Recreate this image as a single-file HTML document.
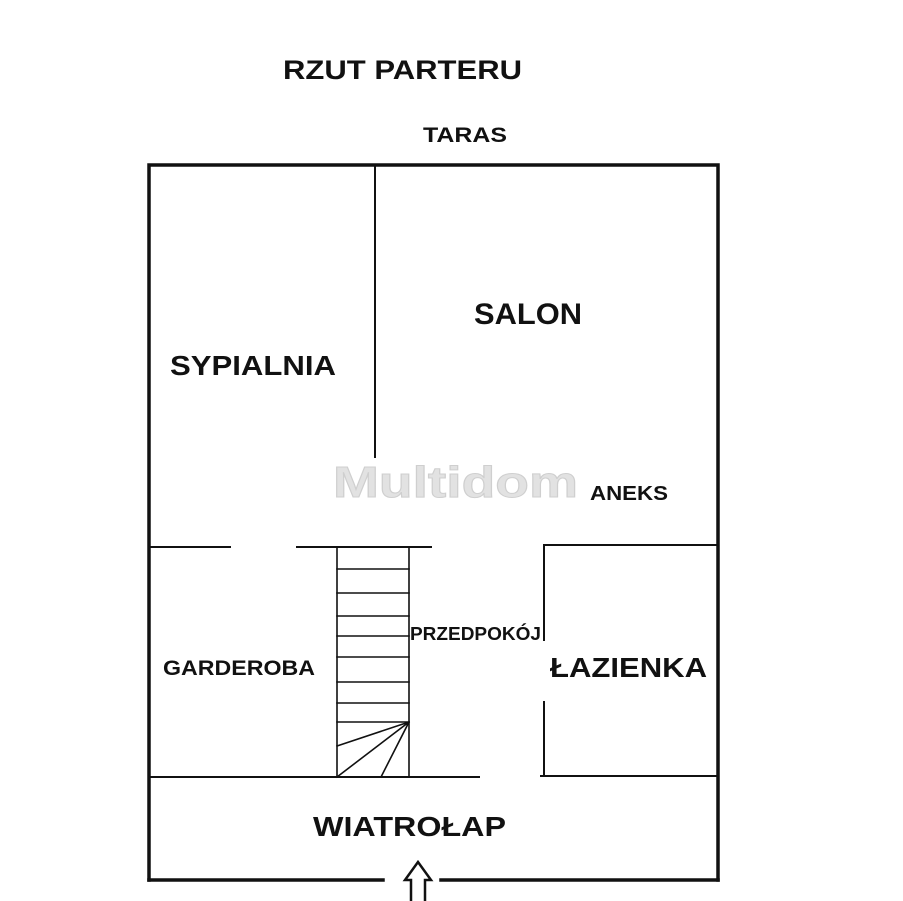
<!DOCTYPE html>
<html><head><meta charset="utf-8"><style>
html,body{margin:0;padding:0;background:#fff;width:903px;height:901px;overflow:hidden}
svg{display:block}
text{font-family:"Liberation Sans",sans-serif;font-weight:bold;fill:#111}
</style></head><body>
<svg width="903" height="901" viewBox="0 0 903 901" xmlns="http://www.w3.org/2000/svg">
<g stroke="#111" fill="none" stroke-linecap="square">
<path d="M149 880 V165 H718 V880" stroke-width="3.5"/>
<path d="M149 880 H383 M441 880 H718" stroke-width="3.5"/>
<path d="M375 165 V457" stroke-width="2"/>
<path d="M149 547 H230 M297 547 H431" stroke-width="2"/>
<path d="M337 547 V777 M409 547 V777" stroke-width="1.6"/>
<path d="M337 569 H409 M337 593 H409 M337 616 H409 M337 636 H409 M337 657 H409 M337 682 H409 M337 703 H409 M337 722 H409" stroke-width="1.6"/>
<path d="M409 722 L337 746 M409 722 L337 777 M409 722 L381 777" stroke-width="1.6"/>
<path d="M149 777 H479" stroke-width="2"/>
<path d="M544 545 H718 M544 545 V640 M544 702 V776 M541 776 H718" stroke-width="2"/>
<path d="M411 901 V880 H405 L418 862 L431 880 H425 V901" stroke-width="2.5" stroke-linejoin="miter"/>
</g>
<text x="283" y="79" font-size="27" textLength="239" lengthAdjust="spacingAndGlyphs">RZUT PARTERU</text>
<text x="423" y="142" font-size="21" textLength="84" lengthAdjust="spacingAndGlyphs">TARAS</text>
<text x="474" y="324" font-size="30" textLength="108" lengthAdjust="spacingAndGlyphs">SALON</text>
<text x="170" y="375" font-size="28" textLength="166" lengthAdjust="spacingAndGlyphs">SYPIALNIA</text>
<text x="333" y="497" font-size="44" textLength="245" lengthAdjust="spacingAndGlyphs" style="fill:#e2e2e2;stroke:#cfcfcf;stroke-width:1">Multidom</text>
<text x="590" y="500" font-size="20" textLength="78" lengthAdjust="spacingAndGlyphs">ANEKS</text>
<text x="410" y="640" font-size="18" textLength="131" lengthAdjust="spacingAndGlyphs">PRZEDPOKÓJ</text>
<text x="163" y="675" font-size="21" textLength="152" lengthAdjust="spacingAndGlyphs">GARDEROBA</text>
<text x="550" y="677" font-size="28" textLength="157" lengthAdjust="spacingAndGlyphs">ŁAZIENKA</text>
<text x="313" y="836" font-size="28" textLength="193" lengthAdjust="spacingAndGlyphs">WIATROŁAP</text>
</svg>
</body></html>
